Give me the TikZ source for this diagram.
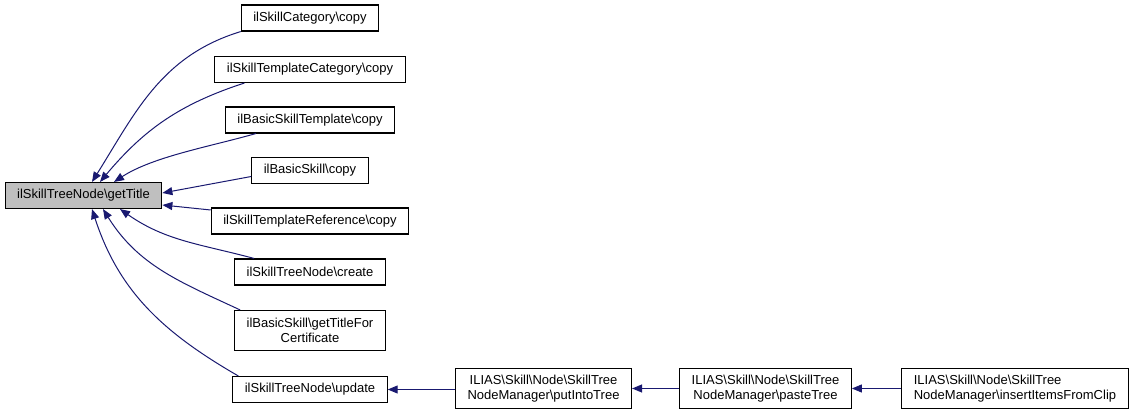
\documentclass[tikz,border=0pt]{standalone}
\usepackage{fontspec}
\setmainfont{Liberation Sans}
\usetikzlibrary{arrows.meta}

\begin{document}
\begin{tikzpicture}[x=1pt,y=1pt,
  box/.style={draw=black, line width=1.1pt, fill=white, inner xsep=12pt, inner ysep=0pt, minimum height=26pt, font=\fontsize{13}{14.5}\selectfont},
  twoline/.style={box, minimum height=40pt},
  edge/.style={draw=edgeblue, line width=1pt, {Triangle[length=10pt,width=8pt]}-}]
\definecolor{edgeblue}{RGB}{25,25,112}
\useasboundingbox (0,0) rectangle (1133,415);

\node[box, fill=black!25] (title) at (83.5,219.5) {ilSkillTreeNode\textbackslash getTitle};

\foreach \n/\t/\y in
 { cat/ilSkillCategory\textbackslash copy/397,
tcat/ilSkillTemplateCategory\textbackslash copy/345.5,
bst/ilBasicSkillTemplate\textbackslash copy/295,
bs/ilBasicSkill\textbackslash copy/244.5,
tref/ilSkillTemplateReference\textbackslash copy/194,
create/ilSkillTreeNode\textbackslash create/143,
update/ilSkillTreeNode\textbackslash update/25.5 }{
\node[box] (\n) at (310,\y) {\t};
}
\node[twoline, align=center] (cert) at (310,84.5) {ilBasicSkill\textbackslash getTitleFor\\Certificate};

\node[twoline, align=center] (put) at (543.5,26.5) {ILIAS\textbackslash Skill\textbackslash Node\textbackslash SkillTree\\NodeManager\textbackslash putIntoTree};
\node[twoline, align=center] (paste) at (765.5,26.5) {ILIAS\textbackslash Skill\textbackslash Node\textbackslash SkillTree\\NodeManager\textbackslash pasteTree};
\node[twoline, align=left] (clip) at (1015,26.5) {ILIAS\textbackslash Skill\textbackslash Node\textbackslash SkillTree\\NodeManager\textbackslash insertItemsFromClip};

% callers of getTitle
\draw[edge] ([xshift=8.5pt]title.north) to[out=58,in=197] (cat.south west);
\draw[edge] ([xshift=16.5pt]title.north) to[out=50,in=198] ([xshift=30pt]tcat.south west);
\draw[edge] ([xshift=30.5pt]title.north) to[out=33,in=196,looseness=0.8] ([xshift=31pt]bst.south west);
\draw[edge] ([yshift=2.5pt]title.east) -- ([yshift=-6pt]bs.west);
\draw[edge] ([yshift=-9.5pt]title.east) -- ([yshift=11pt]tref.west);
\draw[edge] ([xshift=36.5pt]title.south) to[out=-35,in=165] ([xshift=20pt]create.north west);
\draw[edge] ([xshift=19.5pt]title.south) to[out=-58,in=155] ([xshift=6pt]cert.north west);
\draw[edge] ([xshift=8.5pt]title.south) to[out=-72,in=150] ([xshift=6pt]update.north west);

% chain of update
\draw[edge] (update.east) -- (update.east -| put.west);
\draw[edge] (put.east) -- (put.east -| paste.west);
\draw[edge] (paste.east) -- (paste.east -| clip.west);
\end{tikzpicture}
\end{document}
